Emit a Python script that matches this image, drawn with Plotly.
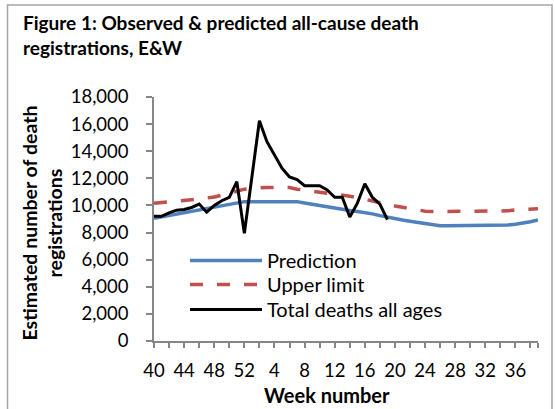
import plotly.graph_objects as go

# Week labels (week 40 of 2014 -> week 39 of 2015)
weeks = list(range(40, 53)) + list(range(1, 40))

prediction = [9050, 9150, 9250, 9350, 9450, 9550, 9650, 9750, 9850, 9950,
              10050, 10200, 10280, 10280, 10280, 10280, 10280, 10280, 10280, 10280,
              10180, 10080, 9960, 9870, 9780, 9700, 9620, 9560, 9500, 9380,
              9250, 9120, 9020, 8920, 8830, 8750, 8650, 8560, 8500, 8500,
              8500, 8500, 8500, 8500, 8500, 8500, 8500, 8550, 8620, 8700,
              8800, 8930]

upper_limit = [10160, 10200, 10250, 10300, 10350, 10420, 10480, 10540, 10620, 10750,
               10900, 11050, 11200, 11270, 11320, 11320, 11320, 11320, 11320, 11200,
               11130, 11050, 10990, 10920, 10860, 10780, 10680, 10580, 10450, 10330,
               10200, 10070, 9960, 9870, 9760, 9660, 9580, 9550, 9550, 9550,
               9550, 9550, 9550, 9550, 9550, 9550, 9550, 9600, 9670, 9700,
               9720, 9750]

total_deaths = [9200, 9200, 9450, 9650, 9700, 9850, 10100, 9500, 10000, 10350,
                10600, 11750, 7950, 12100, 16250, 14700, 13700, 12750, 12100, 11900,
                11450, 11450, 11450, 11150, 10600, 10600, 9150, 10150, 11600, 10600,
                10100, 8950]

y_ticks = list(range(0, 18001, 2000))

idx = list(range(len(weeks)))
label_idx = idx[0:49:4]
label_text = [str(weeks[i]) for i in label_idx]
minor_idx = idx[0::2] + [idx[-1]]

FONT = "Lato"

fig = go.Figure()
fig.add_trace(go.Scatter(x=idx, y=prediction, mode="lines", name="Prediction",
                         line=dict(color="#4F81BD", width=3.5), legend="legend"))
fig.add_trace(go.Scatter(x=idx, y=upper_limit, mode="lines", name="Upper limit",
                         line=dict(color="#C0504D", width=3.5, dash="13px,14px"),
                         legend="legend2"))
fig.add_trace(go.Scatter(x=idx[:len(total_deaths)], y=total_deaths, mode="lines",
                         name="Total deaths all ages",
                         line=dict(color="#000000", width=3), legend="legend3"))

L, R, T, B = 154, 538, 97, 341
W, H = 555, 409


def px(x):
    return (x - L) / (R - L)


def py(y):
    return (B - y) / (B - T)


def leg(top):
    return dict(x=px(185), y=py(top), xanchor="left", yanchor="top",
                bgcolor="rgba(0,0,0,0)", font=dict(size=20, family=FONT),
                itemwidth=72)


fig.update_layout(
    width=W, height=H,
    margin=dict(l=L, r=W - R, t=T, b=H - B),
    paper_bgcolor="white", plot_bgcolor="white",
    font=dict(family=FONT, size=18, color="#000000"),
    showlegend=True,
    legend=leg(241),
    legend2=leg(265),
    legend3=leg(290),
    xaxis=dict(range=[0, len(weeks) - 1], showgrid=False, zeroline=False,
               showline=True, linecolor="#868686", linewidth=1.5,
               tickmode="array", tickvals=label_idx, ticktext=label_text,
               ticks="outside", ticklen=5, tickcolor="#868686", tickwidth=1.5,
               ticklabelstandoff=7,
               minor=dict(tickmode="array", tickvals=minor_idx, ticks="outside",
                          ticklen=5, tickcolor="#868686", tickwidth=1.5),
               tickfont=dict(size=18.5, family=FONT)),
    yaxis=dict(range=[0, 18000], showgrid=False, zeroline=False,
               showline=True, linecolor="#868686", linewidth=1.5,
               tickmode="array", tickvals=y_ticks, tickformat=",",
               ticks="outside", ticklen=6, tickcolor="#868686", tickwidth=1.5,
               ticklabelstandoff=14,
               tickfont=dict(size=18.5, family=FONT)),
    shapes=[dict(type="rect", xref="paper", yref="paper",
                 x0=px(7.5), x1=px(552), y0=py(420), y1=py(5),
                 line=dict(color="#A6A6A6", width=1.5), fillcolor="rgba(0,0,0,0)",
                 layer="below")],
    annotations=[
        dict(text="Figure 1: Observed & predicted all-cause death<br>registrations, E&W",
             xref="paper", yref="paper", x=px(21), y=py(9), xanchor="left", yanchor="top",
             align="left", showarrow=False,
             font=dict(size=19, family=FONT, weight="bold")),
        dict(text="Estimated number of death<br>registrations",
             xref="paper", yref="paper", x=px(41.5), y=py(223), textangle=-90,
             xanchor="center", yanchor="middle", align="center", showarrow=False,
             font=dict(size=19.5, family=FONT, weight="bold")),
        dict(text="Week number", xref="paper", yref="paper", x=px(327), y=py(409),
             xanchor="center", yanchor="bottom", showarrow=False,
             font=dict(size=20, family=FONT, weight="bold")),
    ],
)

fig.write_html("out.html", config={"displayModeBar": False},
               post_script="document.body.style.margin='0';")
